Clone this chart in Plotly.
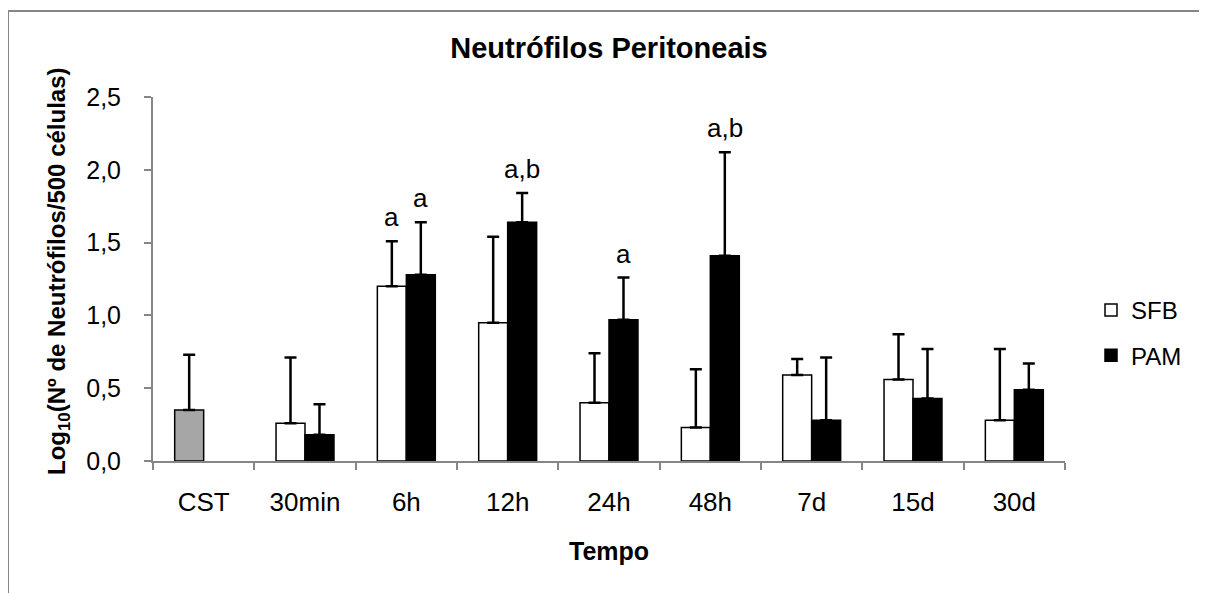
import plotly.graph_objects as go

# --- data ---
categories = ["CST", "30min", "6h", "12h", "24h", "48h", "7d", "15d", "30d"]

cst_mean = [0.35]
cst_err = [0.38]

groups = ["30min", "6h", "12h", "24h", "48h", "7d", "15d", "30d"]
sfb_mean = [0.26, 1.20, 0.95, 0.40, 0.23, 0.59, 0.56, 0.28]
sfb_err = [0.45, 0.31, 0.59, 0.34, 0.40, 0.11, 0.31, 0.49]
pam_mean = [0.18, 1.28, 1.64, 0.97, 1.41, 0.28, 0.43, 0.49]
pam_err = [0.21, 0.36, 0.20, 0.29, 0.71, 0.43, 0.34, 0.18]

sfb_letters = ["", "a", "", "", "", "", "", ""]
pam_letters = ["", "a", "a,b", "a", "a,b", "", "", ""]

y_ticks = [0, 0.5, 1.0, 1.5, 2.0, 2.5]
y_ticktext = ["0,0", "0,5", "1,0", "1,5", "2,0", "2,5"]

FONT = "Arial, Liberation Sans, sans-serif"
AXIS_GREY = "#868686"

# the page body has an 8px margin, so the figure is drawn 8px in from the corner
OFF = 8
W, H = 1207 - OFF, 593 - OFF
PLOT_L, PLOT_R, PLOT_T, PLOT_B = 153 - OFF, 1065 - OFF, 97 - OFF, 461 - OFF
PW, PH = PLOT_R - PLOT_L, PLOT_B - PLOT_T


def px_x(x):
    return (x - OFF - PLOT_L) / PW


def px_y(y):
    return (PLOT_B - (y - OFF)) / PH


fig = go.Figure()

err_style = dict(type="data", symmetric=False, color="black", thickness=2.5, width=6)

# CST control bar sits in the SFB slot
fig.add_trace(go.Bar(
    x=categories[:1], y=cst_mean, name="CST", showlegend=False, offsetgroup="sfb",
    marker=dict(color="#A6A6A6", line=dict(color="black", width=1.5)),
    error_y=dict(array=cst_err, arrayminus=[0] * len(cst_err), **err_style),
))
fig.add_trace(go.Bar(
    x=groups, y=sfb_mean, name="SFB", offsetgroup="sfb", legendgroup="sfb",
    marker=dict(color="white", line=dict(color="black", width=1.5)),
    error_y=dict(array=sfb_err, arrayminus=[0] * len(sfb_err), **err_style),
))
fig.add_trace(go.Bar(
    x=groups, y=pam_mean, name="PAM", offsetgroup="pam", legendgroup="pam",
    marker=dict(color="black", line=dict(color="black", width=1.5)),
    error_y=dict(array=pam_err, arrayminus=[0] * len(pam_err), **err_style),
))

# significance letters above the error bars
annotations = []
for cat, m, e, t in zip(groups, sfb_mean, sfb_err, sfb_letters):
    if t:
        annotations.append(dict(x=cat, y=m + e, xref="x", yref="y", text=t, showarrow=False,
                                xshift=-14.5, yshift=7, yanchor="bottom",
                                font=dict(size=26, color="black", family=FONT)))
for cat, m, e, t in zip(groups, pam_mean, pam_err, pam_letters):
    if t:
        annotations.append(dict(x=cat, y=m + e, xref="x", yref="y", text=t, showarrow=False,
                                xshift=14.5, yshift=7, yanchor="bottom",
                                font=dict(size=26, color="black", family=FONT)))

# axis titles
annotations.append(dict(x=px_x(58), y=px_y(65), xref="paper", yref="paper", textangle=-90,
                        text="<b>Log<sub>10</sub>(Nº de Neutrófilos/500 células)</b>",
                        showarrow=False, xanchor="center", yanchor="top",
                        font=dict(size=24, color="black", family=FONT)))
annotations.append(dict(x=0.5, y=px_y(551), xref="paper", yref="paper", text="<b>Tempo</b>",
                        showarrow=False, xanchor="center", yanchor="middle",
                        font=dict(size=25, color="black", family=FONT)))

# chart-area frame: only its left and top edges fall inside the picture
frame = dict(color=AXIS_GREY, width=2)
shapes = [
    dict(type="line", xref="paper", yref="paper", x0=px_x(8), x1=px_x(8),
         y0=px_y(600), y1=px_y(11), line=frame, layer="below"),
    dict(type="line", xref="paper", yref="paper", x0=px_x(8), x1=px_x(1215),
         y0=px_y(11), y1=px_y(11), line=frame, layer="below"),
]

fig.update_layout(
    width=W, height=H,
    barmode="group", bargap=0.428, bargroupgap=0,
    paper_bgcolor="white", plot_bgcolor="white",
    margin=dict(l=PLOT_L, r=W - PLOT_R, t=PLOT_T, b=H - PLOT_B),
    font=dict(family=FONT, color="black"),
    title=dict(text="<b>Neutrófilos Peritoneais</b>", x=0.5, xref="paper",
               y=1 - (48 - OFF) / H, yref="container", yanchor="middle",
               font=dict(size=29, color="black", family=FONT)),
    legend=dict(x=px_x(1091), y=px_y(288), xanchor="left", yanchor="top",
                traceorder="grouped", tracegroupgap=11,
                font=dict(size=24, color="black", family=FONT),
                bgcolor="rgba(0,0,0,0)"),
    annotations=annotations,
    shapes=shapes,
)

fig.update_xaxes(
    type="category", categoryorder="array", categoryarray=categories,
    showline=True, linecolor=AXIS_GREY, linewidth=2,
    ticks="outside", tickson="boundaries", ticklen=7, tickcolor=AXIS_GREY, tickwidth=1.5,
    showgrid=False, zeroline=False,
    tickfont=dict(size=26, color="black", family=FONT), ticklabelstandoff=17,
)
fig.update_yaxes(
    range=[0, 2.5], tickvals=y_ticks, ticktext=y_ticktext,
    showline=True, linecolor=AXIS_GREY, linewidth=2,
    ticks="outside", ticklen=7, tickcolor=AXIS_GREY, tickwidth=1.5,
    showgrid=False, zeroline=False,
    tickfont=dict(size=25, color="black", family=FONT), ticklabelstandoff=18,
)

fig.write_html("out.html")
